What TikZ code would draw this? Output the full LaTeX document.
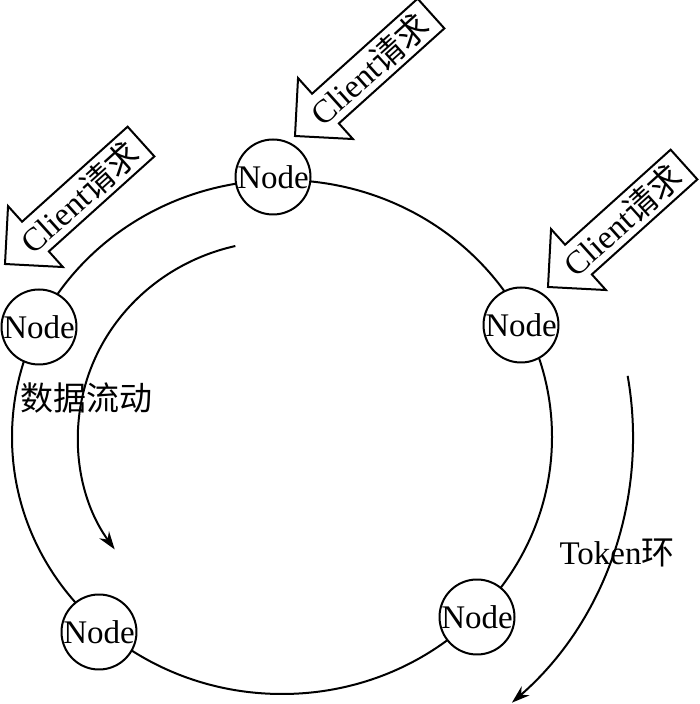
\documentclass[tikz,border=0pt]{standalone}
\usepackage{fontspec}
\setmainfont{Liberation Serif}
\newfontfamily\cjk{Noto Sans CJK SC}
\usetikzlibrary{arrows.meta}
\begin{document}
\begin{tikzpicture}[x=1pt,y=1pt,
  txt/.style={font=\fontsize{33}{36}\selectfont, inner sep=0pt},
  ring/.style={line width=2pt},
  nodecirc/.style={circle, draw, line width=2pt, fill=white, minimum size=74pt, inner sep=0pt, font=\fontsize{33}{36}\selectfont},
  clientarrow/.style={draw, line width=2pt, fill=white, line join=miter},
  flow/.style={line width=2pt, -{Stealth[length=18pt,width=12pt]}}
]
\useasboundingbox (0,0) rectangle (700,704);
\coordinate (c) at (281,267);

% main ring
\draw[ring] (282,267) ellipse [x radius=270, y radius=257];

% nodes
\node[nodecirc] (ntop) at (273,527) {Node};
\node[nodecirc] (nleft) at (39,377) {Node};
\node[nodecirc] (nright) at (521,379) {Node};
\node[nodecirc] (nbl) at (99,72) {Node};
\node[nodecirc] (nbr) at (477,87) {Node};

% inner flow arrow
\draw[flow] ([shift={(103:203 and 196)}]c) arc[start angle=103, end angle=215, x radius=203, y radius=196];
\node[txt] (flowlbl) at (86,306) {\cjk 数据流动};

% outer token arrow
\draw[flow] ([shift={(10:352)}]c) arc[start angle=10, end angle=-49, radius=352];
\node[txt] (toklbl) at (617,151) {Token{\cjk 环}};

% client request arrows
\foreach \tx/\ty/\nm in {5/440/ca, 548/417/cb, 295/568/cc}{
  \begin{scope}[shift={(\tx,\ty)}, rotate=42]
    \draw[clientarrow] (0,0) -- (41,41) -- (41,20) -- (183,20) -- (183,-20) -- (41,-20) -- (41,-41) -- cycle;
    \node[txt, rotate=42] (\nm) at (100,0) {Client{\cjk 请求}};
  \end{scope}
}
\end{tikzpicture}
\end{document}
